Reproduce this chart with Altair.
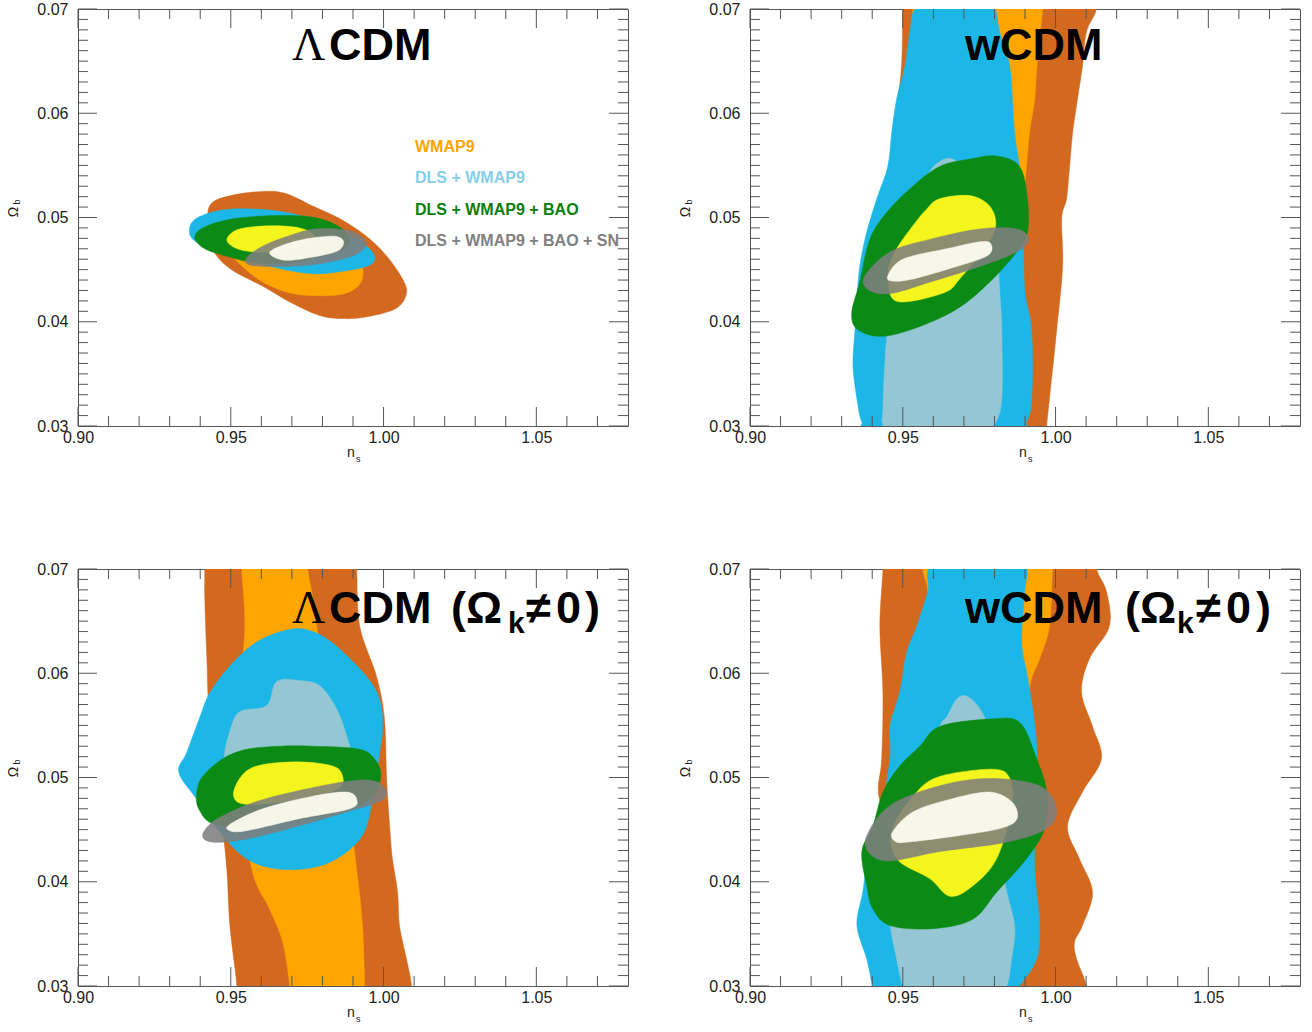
import altair as alt
import pandas as pd

# ---------------- axes / labels ----------------
X_DOMAIN = [0.90, 1.08]
Y_DOMAIN = [0.03, 0.07]
X_LABELS = [0.90, 0.95, 1.00, 1.05]
Y_LABELS = [0.03, 0.04, 0.05, 0.06, 0.07]
X_MINOR = [0.91, 0.92, 0.93, 0.94, 0.96, 0.97, 0.98, 0.99, 1.01, 1.02, 1.03, 1.04, 1.06, 1.07]
Y_MINOR = [round(0.03 + k * 0.001, 3) for k in range(1, 40) if k % 10]

LEGEND_LABELS = ["WMAP9", "DLS + WMAP9", "DLS + WMAP9 + BAO", "DLS + WMAP9 + BAO + SN"]
LEGEND_COLORS = ["#FFA500", "#87CEEB", "#0A800A", "#808080"]

DATASETS = ["WMAP9", "DLS+WMAP9", "DLS+WMAP9+BAO", "DLS+WMAP9+BAO+SN"]
FILLS = {  # (2 sigma, 1 sigma)
    "WMAP9": ("#D2691E", "#FFA500"),
    "DLS+WMAP9": ("#1DB7E7", "#95C6D3"),
    "DLS+WMAP9+BAO": ("#0B8A15", "#F3F51C"),
    "DLS+WMAP9+BAO+SN": ("#7E7E7E", "#FAFAEC"),
}
OPAC = {  # (2 sigma, 1 sigma)
    "WMAP9": (1.0, 1.0), "DLS+WMAP9": (1.0, 1.0),
    "DLS+WMAP9+BAO": (1.0, 1.0), "DLS+WMAP9+BAO+SN": (0.88, 0.97),
}

# ---------------- contour outlines (n_s, Omega_b) ----------------
LCDM = {
    ("WMAP9", 2): [(0.9435, 0.0513), (0.9500, 0.0521), (0.9605, 0.0525), (0.9680, 0.0523), (0.9768, 0.0511),
                   (0.9856, 0.0499), (0.9944, 0.0482), (1.0010, 0.0463), (1.0062, 0.0441), (1.0075, 0.0427),
                   (1.0042, 0.0413), (0.9950, 0.0405), (0.9870, 0.0403), (0.9791, 0.0406), (0.9693, 0.0419),
                   (0.9605, 0.0434), (0.9497, 0.0451), (0.9440, 0.0470), (0.9425, 0.0495)],
    ("WMAP9", 1): [(0.9497, 0.0487), (0.9627, 0.0499), (0.9791, 0.0494), (0.9905, 0.0475), (0.9931, 0.0455),
                   (0.9922, 0.0436), (0.9856, 0.0426), (0.9725, 0.0426), (0.9640, 0.0433), (0.9570, 0.0445),
                   (0.9500, 0.0466)],
    ("DLS+WMAP9", 2): [(0.9366, 0.0491), (0.9399, 0.0501), (0.9497, 0.0508), (0.9660, 0.0506), (0.9791, 0.0496),
                       (0.9899, 0.0482), (0.9954, 0.0470), (0.9971, 0.0460), (0.9944, 0.0453), (0.9856, 0.0448),
                       (0.9768, 0.0446), (0.9660, 0.0451), (0.9552, 0.0460), (0.9441, 0.0470), (0.9376, 0.0479)],
    ("DLS+WMAP9", 1): [(0.9480, 0.0490), (0.9650, 0.0495), (0.9800, 0.0485), (0.9840, 0.0472), (0.9700, 0.0462),
                       (0.9540, 0.0470)],
    ("DLS+WMAP9+BAO", 2): [(0.9382, 0.0481), (0.9415, 0.0491), (0.9513, 0.0499), (0.9660, 0.0502), (0.9775, 0.0500),
                           (0.9856, 0.0491), (0.9889, 0.0479), (0.9856, 0.0468), (0.9725, 0.0458), (0.9595, 0.0456),
                           (0.9497, 0.0462), (0.9415, 0.0470)],
    ("DLS+WMAP9+BAO", 1): [(0.9490, 0.0481), (0.9529, 0.0489), (0.9627, 0.0492), (0.9725, 0.0490), (0.9775, 0.0482),
                           (0.9742, 0.0473), (0.9644, 0.0467), (0.9546, 0.0468), (0.9497, 0.0474)],
    ("DLS+WMAP9+BAO+SN", 2): [(0.9549, 0.0460), (0.9595, 0.0471), (0.9676, 0.0481), (0.9775, 0.0489), (0.9879, 0.0488),
                              (0.9931, 0.0481), (0.9941, 0.0472), (0.9889, 0.0462), (0.9775, 0.0455), (0.9660, 0.0453),
                              (0.9569, 0.0454)],
    ("DLS+WMAP9+BAO+SN", 1): [(0.9627, 0.0466), (0.9676, 0.0474), (0.9758, 0.0480), (0.9840, 0.0482), (0.9869, 0.0477),
                              (0.9850, 0.0468), (0.9768, 0.0462), (0.9676, 0.0459)],
}

WCDM = {
    ("WMAP9", 2): [(1.0144, 0.0730), (1.0134, 0.0700), (1.0101, 0.0678), (1.0088, 0.0645), (1.0072, 0.0614),
                   (1.0056, 0.0582), (1.0046, 0.0549), (1.0036, 0.0518), (1.0020, 0.0499), (1.0023, 0.0453),
                   (1.0003, 0.0390), (0.9980, 0.0326), (0.9971, 0.0300), (0.9964, 0.0270), (0.9420, 0.0270),
                   (0.9420, 0.0400), (0.9440, 0.0500), (0.9484, 0.0611), (0.9497, 0.0652), (0.9500, 0.0700),
                   (0.9505, 0.0730)],
    ("WMAP9", 1): [(0.9964, 0.0730), (0.9958, 0.0700), (0.9939, 0.0645), (0.9932, 0.0614), (0.9915, 0.0582),
                   (0.9905, 0.0549), (0.9890, 0.0500), (0.9870, 0.0400), (0.9850, 0.0270), (0.9550, 0.0270),
                   (0.9550, 0.0500), (0.9560, 0.0730)],
    ("DLS+WMAP9", 2): [(0.9600, 0.0706), (0.9540, 0.0700), (0.9523, 0.0678), (0.9507, 0.0645), (0.9480, 0.0614),
                       (0.9464, 0.0582), (0.9451, 0.0549), (0.9415, 0.0518), (0.9382, 0.0486), (0.9359, 0.0453),
                       (0.9350, 0.0422), (0.9343, 0.0390), (0.9337, 0.0358), (0.9350, 0.0326), (0.9366, 0.0304),
                       (0.9400, 0.0294), (0.9870, 0.0294), (0.9905, 0.0304), (0.9922, 0.0326), (0.9922, 0.0390),
                       (0.9899, 0.0431), (0.9895, 0.0486), (0.9892, 0.0518), (0.9882, 0.0549), (0.9866, 0.0582),
                       (0.9850, 0.0645), (0.9817, 0.0678), (0.9801, 0.0700), (0.9750, 0.0706)],
    ("DLS+WMAP9", 1): [(0.9637, 0.0556), (0.9676, 0.0554), (0.9735, 0.0537), (0.9801, 0.0489), (0.9817, 0.0431),
                       (0.9824, 0.0390), (0.9824, 0.0326), (0.9801, 0.0302), (0.9760, 0.0294), (0.9470, 0.0294),
                       (0.9435, 0.0302), (0.9435, 0.0316), (0.9441, 0.0358), (0.9451, 0.0390), (0.9490, 0.0440),
                       (0.9556, 0.0518), (0.9588, 0.0544)],
    ("DLS+WMAP9+BAO", 2): [(0.9719, 0.0556), (0.9807, 0.0559), (0.9882, 0.0549), (0.9908, 0.0518), (0.9908, 0.0486),
                           (0.9873, 0.0467), (0.9784, 0.0438), (0.9676, 0.0412), (0.9533, 0.0393), (0.9425, 0.0386),
                           (0.9350, 0.0393), (0.9333, 0.0409), (0.9359, 0.0438), (0.9392, 0.0479), (0.9448, 0.0505),
                           (0.9533, 0.0530), (0.9621, 0.0549)],
    ("DLS+WMAP9+BAO", 1): [(0.9621, 0.0518), (0.9719, 0.0521), (0.9784, 0.0511), (0.9804, 0.0492), (0.9768, 0.0470),
                           (0.9686, 0.0441), (0.9644, 0.0429), (0.9533, 0.0420), (0.9467, 0.0422), (0.9451, 0.0446),
                           (0.9474, 0.0467), (0.9533, 0.0492), (0.9578, 0.0508)],
    ("DLS+WMAP9+BAO+SN", 2): [(0.9376, 0.0444), (0.9458, 0.0467), (0.9588, 0.0479), (0.9752, 0.0489), (0.9873, 0.0489),
                              (0.9912, 0.0479), (0.9873, 0.0467), (0.9752, 0.0453), (0.9588, 0.0438), (0.9458, 0.0427),
                              (0.9386, 0.0431)],
    ("DLS+WMAP9+BAO+SN", 1): [(0.9451, 0.0444), (0.9500, 0.0460), (0.9644, 0.0470), (0.9761, 0.0477), (0.9791, 0.0473),
                              (0.9775, 0.0463), (0.9676, 0.0453), (0.9533, 0.0441), (0.9467, 0.0439)],
}

LCDM_K = {
    ("WMAP9", 2): [(0.9905, 0.0730), (0.9912, 0.0700), (0.9922, 0.0645), (0.9977, 0.0597), (1.0003, 0.0556),
                   (1.0010, 0.0499), (1.0020, 0.0453), (1.0029, 0.0422), (1.0046, 0.0390), (1.0052, 0.0358),
                   (1.0075, 0.0326), (1.0092, 0.0300), (1.0098, 0.0270), (0.9520, 0.0270), (0.9520, 0.0300),
                   (0.9497, 0.0358), (0.9487, 0.0412), (0.9470, 0.0460), (0.9431, 0.0556), (0.9422, 0.0613),
                   (0.9415, 0.0671), (0.9415, 0.0700), (0.9415, 0.0730)],
    ("WMAP9", 1): [(0.9749, 0.0730), (0.9752, 0.0700), (0.9765, 0.0678), (0.9781, 0.0645), (0.9824, 0.0575),
                   (0.9873, 0.0499), (0.9912, 0.0412), (0.9931, 0.0358), (0.9938, 0.0300), (0.9938, 0.0270),
                   (0.9700, 0.0270), (0.9693, 0.0300), (0.9670, 0.0342), (0.9627, 0.0374), (0.9569, 0.0412),
                   (0.9530, 0.0499), (0.9530, 0.0575), (0.9546, 0.0645), (0.9536, 0.0700), (0.9536, 0.0730)],
    ("DLS+WMAP9", 2): [(0.9693, 0.0642), (0.9768, 0.0640), (0.9846, 0.0626), (0.9944, 0.0597), (0.9987, 0.0575),
                       (0.9997, 0.0549), (0.9987, 0.0524), (0.9974, 0.0499), (0.9944, 0.0453), (0.9889, 0.0431),
                       (0.9791, 0.0415), (0.9660, 0.0412), (0.9552, 0.0422), (0.9464, 0.0448), (0.9389, 0.0479),
                       (0.9330, 0.0505), (0.9356, 0.0524), (0.9399, 0.0558), (0.9431, 0.0581), (0.9497, 0.0607),
                       (0.9585, 0.0630)],
    ("DLS+WMAP9", 1): [(0.9650, 0.0592), (0.9725, 0.0593), (0.9791, 0.0588), (0.9846, 0.0566), (0.9879, 0.0540),
                       (0.9895, 0.0518), (0.9873, 0.0489), (0.9725, 0.0479), (0.9510, 0.0489), (0.9480, 0.0518),
                       (0.9497, 0.0544), (0.9529, 0.0563), (0.9618, 0.0569)],
    ("DLS+WMAP9+BAO", 2): [(0.9408, 0.0501), (0.9474, 0.0518), (0.9552, 0.0527), (0.9660, 0.0530), (0.9768, 0.0530),
                           (0.9922, 0.0527), (0.9977, 0.0515), (0.9990, 0.0499), (0.9954, 0.0479), (0.9824, 0.0465),
                           (0.9595, 0.0455), (0.9448, 0.0455), (0.9395, 0.0470), (0.9389, 0.0486)],
    ("DLS+WMAP9+BAO", 1): [(0.9529, 0.0499), (0.9585, 0.0511), (0.9716, 0.0515), (0.9833, 0.0511), (0.9866, 0.0501),
                           (0.9850, 0.0489), (0.9725, 0.0479), (0.9562, 0.0474), (0.9510, 0.0481)],
    ("DLS+WMAP9+BAO+SN", 2): [(0.9408, 0.0445), (0.9454, 0.0460), (0.9585, 0.0477), (0.9748, 0.0489), (0.9899, 0.0497),
                              (0.9977, 0.0496), (1.0010, 0.0486), (0.9987, 0.0477), (0.9879, 0.0467), (0.9716, 0.0453),
                              (0.9552, 0.0441), (0.9441, 0.0438)],
    ("DLS+WMAP9+BAO+SN", 1): [(0.9497, 0.0455), (0.9605, 0.0470), (0.9768, 0.0482), (0.9879, 0.0486), (0.9912, 0.0479),
                              (0.9889, 0.0470), (0.9716, 0.0460), (0.9552, 0.0449), (0.9497, 0.0449)],
}

WCDM_K = {
    ("WMAP9", 2): [(1.0121, 0.0730), (1.0134, 0.0700), (1.0167, 0.0678), (1.0176, 0.0645), (1.0111, 0.0614),
                   (1.0085, 0.0582), (1.0121, 0.0549), (1.0150, 0.0518), (1.0088, 0.0486), (1.0039, 0.0453),
                   (1.0078, 0.0422), (1.0121, 0.0390), (1.0088, 0.0358), (1.0062, 0.0342), (1.0069, 0.0326),
                   (1.0101, 0.0300), (1.0110, 0.0270), (0.9450, 0.0270), (0.9450, 0.0350), (0.9445, 0.0450),
                   (0.9420, 0.0486), (0.9431, 0.0518), (0.9435, 0.0582), (0.9425, 0.0645), (0.9435, 0.0700),
                   (0.9435, 0.0730)],
    ("WMAP9", 1): [(0.9997, 0.0730), (0.9990, 0.0700), (0.9980, 0.0645), (0.9948, 0.0614), (0.9915, 0.0585),
                   (0.9905, 0.0518), (0.9925, 0.0441), (0.9905, 0.0383), (0.9882, 0.0300), (0.9880, 0.0270),
                   (0.9550, 0.0270), (0.9530, 0.0400), (0.9530, 0.0550), (0.9565, 0.0645), (0.9582, 0.0678),
                   (0.9565, 0.0700), (0.9565, 0.0730)],
    ("DLS+WMAP9", 2): [(0.9605, 0.0704), (0.9582, 0.0678), (0.9546, 0.0645), (0.9513, 0.0620), (0.9490, 0.0582),
                       (0.9458, 0.0549), (0.9458, 0.0518), (0.9425, 0.0460), (0.9386, 0.0422), (0.9369, 0.0390),
                       (0.9350, 0.0358), (0.9382, 0.0326), (0.9402, 0.0300), (0.9420, 0.0294), (0.9860, 0.0294),
                       (0.9882, 0.0300), (0.9938, 0.0326), (0.9948, 0.0358), (0.9938, 0.0390), (0.9931, 0.0422),
                       (0.9938, 0.0489), (0.9938, 0.0534), (0.9925, 0.0566), (0.9908, 0.0597), (0.9889, 0.0630),
                       (0.9899, 0.0678), (0.9905, 0.0700), (0.9850, 0.0704)],
    ("DLS+WMAP9", 1): [(0.9676, 0.0575), (0.9709, 0.0578), (0.9752, 0.0566), (0.9784, 0.0542), (0.9817, 0.0479),
                       (0.9833, 0.0403), (0.9866, 0.0358), (0.9856, 0.0326), (0.9840, 0.0300), (0.9800, 0.0294),
                       (0.9520, 0.0294), (0.9500, 0.0300), (0.9480, 0.0326), (0.9458, 0.0364), (0.9474, 0.0403),
                       (0.9556, 0.0499), (0.9621, 0.0549), (0.9644, 0.0558)],
    ("DLS+WMAP9+BAO", 2): [(0.9621, 0.0549), (0.9784, 0.0556), (0.9882, 0.0553), (0.9938, 0.0518), (0.9971, 0.0486),
                           (0.9964, 0.0451), (0.9905, 0.0422), (0.9807, 0.0390), (0.9729, 0.0364), (0.9598, 0.0355),
                           (0.9458, 0.0358), (0.9402, 0.0374), (0.9382, 0.0396), (0.9366, 0.0429), (0.9402, 0.0453),
                           (0.9435, 0.0486), (0.9490, 0.0511), (0.9556, 0.0530)],
    ("DLS+WMAP9+BAO", 1): [(0.9621, 0.0501), (0.9794, 0.0508), (0.9850, 0.0499), (0.9856, 0.0470), (0.9807, 0.0422),
                           (0.9729, 0.0396), (0.9654, 0.0386), (0.9588, 0.0403), (0.9480, 0.0422), (0.9467, 0.0451),
                           (0.9539, 0.0484)],
    ("DLS+WMAP9+BAO+SN", 2): [(0.9382, 0.0444), (0.9458, 0.0473), (0.9621, 0.0492), (0.9784, 0.0499), (0.9948, 0.0492),
                              (1.0003, 0.0470), (0.9971, 0.0451), (0.9840, 0.0438), (0.9621, 0.0429), (0.9458, 0.0420),
                              (0.9392, 0.0427)],
    ("DLS+WMAP9+BAO+SN", 1): [(0.9467, 0.0448), (0.9533, 0.0467), (0.9654, 0.0479), (0.9784, 0.0486), (0.9859, 0.0476),
                              (0.9873, 0.0460), (0.9817, 0.0451), (0.9676, 0.0444), (0.9513, 0.0438), (0.9474, 0.0439)],
}

# ---------------- styling ----------------
W, H = 550, 417
SANS = "Liberation Sans"
SERIF = "Liberation Serif"
TICK = "#555555"
MAJOR, MINOR = 19, 10

XS = alt.Scale(domain=X_DOMAIN, nice=False, zero=False)
YS = alt.Scale(domain=Y_DOMAIN, nice=False, zero=False)
XAXIS = alt.Axis(values=X_LABELS, format=".2f", ticks=False, domain=False, grid=False, labelFontSize=16,
                 labelPadding=3, labelFlush=False, labelOverlap=False, title="", labelColor="#222222",
                 labelFont=SANS, orient="bottom")
YAXIS = alt.Axis(values=Y_LABELS, format=".2f", ticks=False, domain=False, grid=False, labelFontSize=16,
                 labelPadding=10, labelFlush=False, labelOverlap=False, title="", labelColor="#222222",
                 labelFont=SANS, orient="left")
ONE = pd.DataFrame({"k": [0]})


def poly(pts, color, opacity):
    df = pd.DataFrame({"x": [p[0] for p in pts], "y": [p[1] for p in pts], "i": list(range(len(pts)))})
    return alt.Chart(df).mark_line(
        interpolate="cardinal-closed", fill=color, stroke=color, strokeWidth=0.5,
        fillOpacity=opacity, strokeOpacity=opacity, clip=True
    ).encode(
        x=alt.X("x:Q", scale=XS, axis=XAXIS),
        y=alt.Y("y:Q", scale=YS, axis=YAXIS),
        order=alt.Order("i:Q"),
    )


def xticks(vals, length, top):
    y0, y1 = (0, length) if top else (H, H - length)
    return alt.Chart(pd.DataFrame({"x": vals})).mark_rule(color=TICK, strokeWidth=1).encode(
        x=alt.X("x:Q", scale=XS, axis=XAXIS), y=alt.value(y0), y2=alt.value(y1))


def yticks(vals, length, right):
    x0, x1 = (W, W - length) if right else (0, length)
    return alt.Chart(pd.DataFrame({"y": vals})).mark_rule(color=TICK, strokeWidth=1).encode(
        y=alt.Y("y:Q", scale=YS, axis=YAXIS), x=alt.value(x0), x2=alt.value(x1))


def txt(s, x, y, size, font=SANS, weight="normal", color="#000000", align="left", angle=None):
    kw = dict(text=s, font=font, fontSize=size, fontWeight=weight, color=color, align=align,
              baseline="alphabetic")
    if angle is not None:
        kw["angle"] = angle
    return alt.Chart(ONE).mark_text(**kw).encode(x=alt.value(x), y=alt.value(y))


def panel(contours, title_parts, legend=False):
    layers = []
    for ds in DATASETS:
        for lev in (2, 1):
            j = 0 if lev == 2 else 1
            layers.append(poly(contours[(ds, lev)], FILLS[ds][j], OPAC[ds][j]))
    layers += [
        xticks(X_LABELS, MAJOR, False), xticks(X_MINOR, MINOR, False),
        xticks(X_LABELS, MAJOR, True), xticks(X_MINOR, MINOR, True),
        yticks(Y_LABELS, MAJOR, False), yticks(Y_MINOR, MINOR, False),
        yticks(Y_LABELS, MAJOR, True), yticks(Y_MINOR, MINOR, True),
    ]
    # axis titles with subscripts
    layers += [
        txt("n", 273, 448, 14, color="#222222", align="center"),
        txt("s", 278, 453, 9, color="#222222"),
        txt("Ω", -60, 203, 14, color="#222222", align="center", angle=270),
        txt("b", -58, 193, 9, color="#222222", align="center", angle=270),
    ]
    for (s, x, y, size, font, weight) in title_parts:
        layers.append(txt(s, x, y, size, font=font, weight=weight))
    if legend:
        for k, (lab, col) in enumerate(zip(LEGEND_LABELS, LEGEND_COLORS)):
            layers.append(alt.Chart(ONE).mark_text(
                text=lab, font=SANS, fontSize=16, fontWeight="bold", color=col, align="left",
                baseline="middle").encode(x=alt.value(337), y=alt.value(138 + k * 31.3)))
    return alt.layer(*layers).properties(width=W, height=H)


T1 = [("Λ", 214, 51, 46, SERIF, "normal"), ("CDM", 251, 51, 45, SANS, "bold")]
T2 = [("wCDM", 215, 51, 45, SANS, "bold")]
T3 = [("Λ", 214, 54, 46, SERIF, "normal"), ("CDM", 251, 54, 45, SANS, "bold"),
      ("(Ω", 373, 54, 45, SANS, "bold"), ("k", 430, 64, 30, SANS, "bold"),
      ("≠", 448, 54, 45, SANS, "bold"), ("0", 478, 54, 45, SANS, "bold"),
      (")", 507, 54, 45, SANS, "bold")]
T4 = [("wCDM", 215, 54, 45, SANS, "bold"),
      ("(Ω", 375, 54, 45, SANS, "bold"), ("k", 427, 64, 30, SANS, "bold"),
      ("≠", 446, 54, 45, SANS, "bold"), ("0", 476, 54, 45, SANS, "bold"),
      (")", 506, 54, 45, SANS, "bold")]

chart = alt.concat(
    panel(LCDM, T1, legend=True), panel(WCDM, T2),
    panel(LCDM_K, T3), panel(WCDM_K, T4),
    columns=2, spacing={"row": 143, "column": 122}, bounds="flush",
).configure_view(
    stroke="#555555", strokeWidth=1
).properties(
    padding={"left": 6, "top": 0, "right": 5, "bottom": 5}, background="white"
)

chart.save("out.html", embed_options={"renderer": "svg", "actions": False})
